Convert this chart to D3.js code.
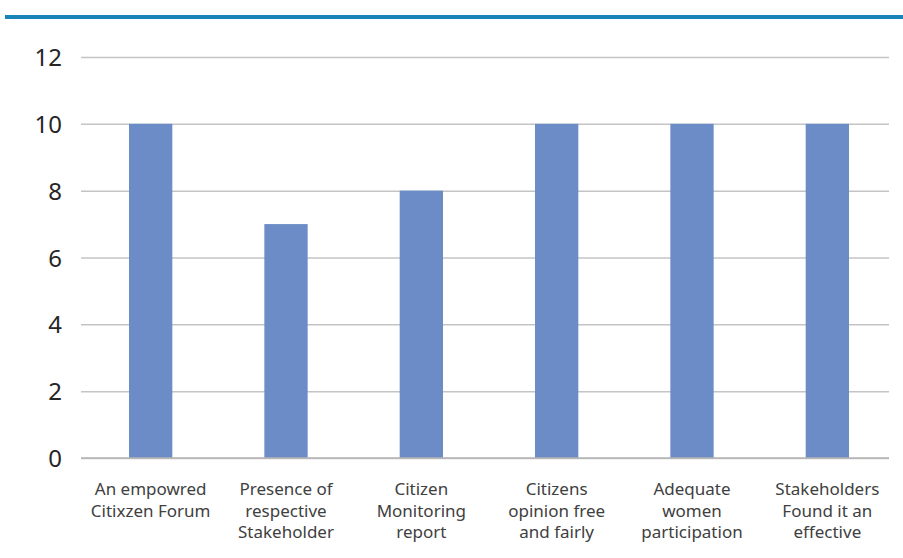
<!DOCTYPE html>
<html>
<head>
<meta charset="utf-8">
<script src="https://cdn.jsdelivr.net/npm/d3@7"></script>
<style>
  body { margin: 0; background: #fff; }
  svg text { font-family: "Noto Sans", "Open Sans", sans-serif; }
</style>
</head>
<body>
<div id="chart"></div>
<script>
// data
const categories = [
    "An empowred|Citixzen Forum",
    "Presence of|respective|Stakeholder",
    "Citizen|Monitoring|report",
    "Citizens|opinion free|and fairly",
    "Adequate|women|participation",
    "Stakeholders|Found it an|effective"
];
const values = [10, 7, 8, 10, 10, 10];
const yTicks = [0, 2, 4, 6, 8, 10, 12];

const W = 903, H = 558;
const plot = { left: 81, right: 889, top: 57, bottom: 458 };

const svg = d3.select("#chart")
    .append("svg")
    .attr("width", W)
    .attr("height", H);

// blue rule across the top
svg.append("line")
    .attr("x1", 5).attr("x2", W)
    .attr("y1", 17).attr("y2", 17)
    .style("stroke", "#1a84b6")
    .style("stroke-width", 4);

// scales
const x = d3.scaleBand()
    .domain(categories)
    .range([83, 895])
    .paddingInner(0.68)
    .paddingOuter(0.34);

const y = d3.scaleLinear()
    .domain([0, 12])
    .range([plot.bottom, plot.top]);

// gridlines + y labels
const yAxis = svg.append("g")
    .attr("transform", `translate(${plot.left},0)`)
    .call(d3.axisLeft(y).tickValues(yTicks).tickSize(-(plot.right - plot.left)).tickPadding(19));
yAxis.select(".domain").remove();
yAxis.selectAll(".tick line")
    .style("stroke", "#c4c4c4")
    .style("stroke-width", 1.5);
yAxis.selectAll(".tick text")
    .style("font-size", "24px")
    .style("fill", "#262626")
    .attr("dy", "0.36em");

// bars
svg.selectAll(".bar")
    .data(values)
    .enter().append("rect")
    .attr("class", "bar")
    .attr("x", (d, i) => x(categories[i]))
    .attr("width", x.bandwidth())
    .attr("y", d => y(d))
    .attr("height", d => y(0) - y(d))
    .style("fill", "#6b8cc7");

// baseline
svg.append("line")
    .attr("x1", plot.left).attr("x2", plot.right)
    .attr("y1", y(0)).attr("y2", y(0))
    .style("stroke", "#b5b5b5")
    .style("stroke-width", 1.5);

// category labels (multi-line)
const labels = svg.selectAll(".cat")
    .data(categories)
    .enter().append("text")
    .attr("class", "cat")
    .attr("text-anchor", "middle")
    .style("font-size", "17px")
    .style("fill", "#404040");

labels.each(function(d) {
    const t = d3.select(this);
    d.split("|").forEach((line, j) => {
        t.append("tspan")
            .attr("x", x(d) + x.bandwidth() / 2)
            .attr("y", y(0) + 37 + j * 21.5)
            .text(line);
    });
});
</script>
</body>
</html>
